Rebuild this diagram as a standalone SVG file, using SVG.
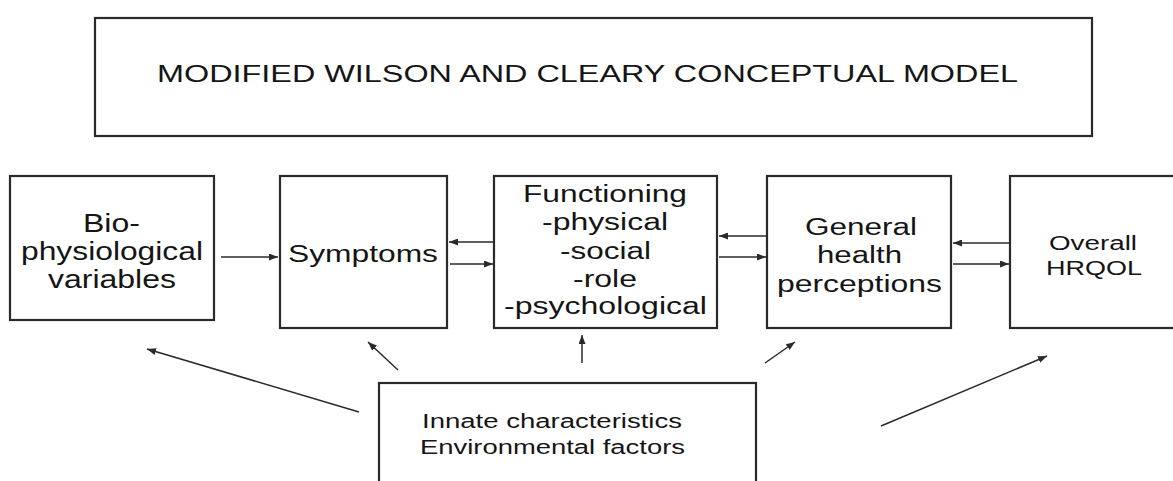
<svg xmlns="http://www.w3.org/2000/svg" width="1173" height="481" viewBox="0 0 1173 481">
<style>
.box{fill:#fff;stroke:#2a2a2a;stroke-width:2.2}
.t{font-family:"Liberation Sans",Arial,sans-serif;fill:#151515}
.c{stroke:#2a2a2a;stroke-width:1.5;fill:none}
</style>
<defs>
<marker id="ah" markerUnits="userSpaceOnUse" markerWidth="9" markerHeight="7" refX="9" refY="3.5" orient="auto">
<path d="M0,0 L9,3.5 L0,7 z" fill="#2a2a2a"/>
</marker>
</defs>
<rect width="1173" height="481" fill="#fff"/>
<g id="title">
<rect class="box" x="95" y="18" width="997" height="118"/>
<text class="t" x="157" y="82" font-size="24" textLength="861" lengthAdjust="spacingAndGlyphs">MODIFIED WILSON AND CLEARY CONCEPTUAL MODEL</text>
</g>
<g id="bio">
<rect class="box" x="10" y="176" width="204" height="144"/>
<text class="t" font-size="25"><tspan x="83" y="232" textLength="57" lengthAdjust="spacingAndGlyphs">Bio-</tspan></text>
<text class="t" font-size="25"><tspan x="21" y="260" textLength="182" lengthAdjust="spacingAndGlyphs">physiological</tspan></text>
<text class="t" font-size="25"><tspan x="48" y="288" textLength="128" lengthAdjust="spacingAndGlyphs">variables</tspan></text>
</g>
<g id="symptoms">
<rect class="box" x="280" y="176" width="167" height="152"/>
<text class="t" x="288" y="262" font-size="24" textLength="150" lengthAdjust="spacingAndGlyphs">Symptoms</text>
</g>
<g id="functioning">
<rect class="box" x="494" y="176" width="223" height="152"/>
<text class="t" x="523" y="202" font-size="23" textLength="164" lengthAdjust="spacingAndGlyphs">Functioning</text>
<text class="t" x="542" y="230" font-size="23" textLength="126" lengthAdjust="spacingAndGlyphs">-physical</text>
<text class="t" x="560" y="259" font-size="23" textLength="91" lengthAdjust="spacingAndGlyphs">-social</text>
<text class="t" x="573" y="287" font-size="23" textLength="64" lengthAdjust="spacingAndGlyphs">-role</text>
<text class="t" x="504" y="314" font-size="23" textLength="203" lengthAdjust="spacingAndGlyphs">-psychological</text>
</g>
<g id="general">
<rect class="box" x="767" y="176" width="184" height="152"/>
<text class="t" x="805" y="235" font-size="23" textLength="112" lengthAdjust="spacingAndGlyphs">General</text>
<text class="t" x="817" y="263" font-size="23" textLength="85" lengthAdjust="spacingAndGlyphs">health</text>
<text class="t" x="777" y="292" font-size="23" textLength="165" lengthAdjust="spacingAndGlyphs">perceptions</text>
</g>
<g id="overall">
<rect class="box" x="1010" y="176" width="200" height="152"/>
<text class="t" x="1049" y="250" font-size="19.5" textLength="88" lengthAdjust="spacingAndGlyphs">Overall</text>
<text class="t" x="1046" y="275" font-size="19.5" textLength="96" lengthAdjust="spacingAndGlyphs">HRQOL</text>
</g>
<g id="innate">
<rect class="box" x="379" y="383" width="377" height="130"/>
<text class="t" x="422" y="428" font-size="19.5" textLength="260" lengthAdjust="spacingAndGlyphs">Innate characteristics</text>
<text class="t" x="420" y="454" font-size="19.5" textLength="265" lengthAdjust="spacingAndGlyphs">Environmental factors</text>
</g>
<g id="connectors" class="c" marker-end="url(#ah)">
<line x1="221" y1="257" x2="278" y2="257" marker-end="url(#ah)"/>
<line x1="494" y1="242" x2="449" y2="242" marker-end="url(#ah)"/>
<line x1="450" y1="264" x2="493" y2="264" marker-end="url(#ah)"/>
<line x1="766" y1="236" x2="719" y2="236" marker-end="url(#ah)"/>
<line x1="719" y1="257" x2="766" y2="257" marker-end="url(#ah)"/>
<line x1="1009" y1="243" x2="953" y2="243" marker-end="url(#ah)"/>
<line x1="953" y1="264" x2="1009" y2="264" marker-end="url(#ah)"/>
<line x1="359" y1="412" x2="147" y2="349" marker-end="url(#ah)"/>
<line x1="398" y1="370" x2="368" y2="342" marker-end="url(#ah)"/>
<line x1="582" y1="363" x2="582" y2="335" marker-end="url(#ah)"/>
<line x1="765" y1="363" x2="795" y2="342" marker-end="url(#ah)"/>
<line x1="881" y1="426" x2="1047" y2="356" marker-end="url(#ah)"/>
</g>
</svg>
